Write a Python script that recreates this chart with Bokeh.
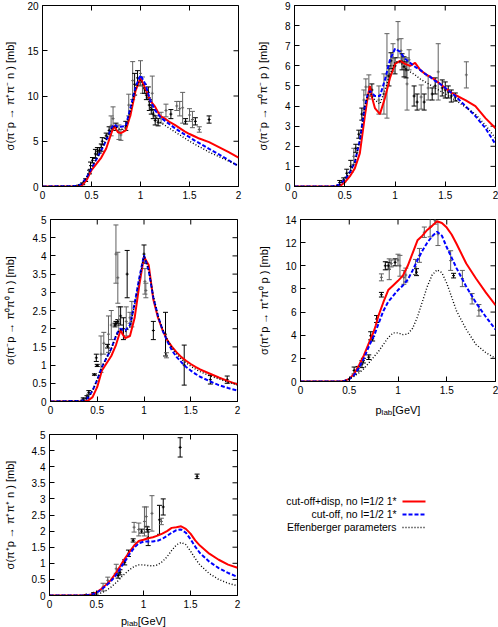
import math
from bokeh.plotting import figure
from bokeh.layouts import column, row
from bokeh.models import Range1d, FixedTicker, CustomJSTickFormatter, ColumnDataSource
from bokeh.core.properties import value
from bokeh.embed import file_html
from bokeh.resources import INLINE

FONT = "Liberation Sans"

X_TICKS = [0, 0.5, 1, 1.5, 2]
X_TICK_LABELS = ["0", "0.5", "1", "1.5", "2"]

Y1_TICKS = [0, 5, 10, 15, 20]
Y1_LABELS = ["0", "5", "10", "15", "20"]
Y2_TICKS = [0, 1, 2, 3, 4, 5, 6, 7, 8, 9]
Y2_LABELS = ["0", "1", "2", "3", "4", "5", "6", "7", "8", "9"]
Y3_TICKS = [0, 0.5, 1, 1.5, 2, 2.5, 3, 3.5, 4, 4.5, 5]
Y3_LABELS = ["0", "0.5", "1", "1.5", "2", "2.5", "3", "3.5", "4", "4.5", "5"]
Y4_TICKS = [0, 2, 4, 6, 8, 10, 12, 14]
Y4_LABELS = ["0", "2", "4", "6", "8", "10", "12", "14"]
Y5_TICKS = Y3_TICKS
Y5_LABELS = Y3_LABELS

YLABELS = [
    "σ(π⁻p → π⁺π⁻ n ) [mb]",
    "σ(π⁻p → π⁰π⁻ p ) [mb]",
    "σ(π⁻p → π⁰π⁰ n ) [mb]",
    "σ(π⁺p → π⁺π⁰ p ) [mb]",
    "σ(π⁺p → π⁺π⁺ n ) [mb]",
]
XLABEL_PARTS = ["p", "lab", "[GeV]"]
LEGEND_LABELS = ["cut-off+disp, no I=1/2 1*", "cut-off, no I=1/2 1*", "Effenberger parameters"]

# common momentum grid of the model curves (GeV)
CURVE_X = [0, .35, .4, .45, .5, .55, .6, .65, .7, .73, .75, .77, .8, .85, .9, .95, 1.0,
           1.05, 1.1, 1.15, 1.2, 1.25, 1.3, 1.35, 1.4, 1.45, 1.5, 1.55, 1.6, 1.7, 1.8, 1.9, 2.0]

# panel 1: pi- p -> pi+ pi- n
P1_RED = [0, 0, .1, .7, 1.8, 2.5, 3.2, 4.2, 5.8, 6.7, 6.3, 6.0, 5.9, 6.2, 8.0, 10.6, 12.0,
          10.8, 9.5, 8.8, 7.8, 7.5, 7.1, 6.8, 6.45, 6.1, 5.8, 5.55, 5.3, 4.9, 4.35, 3.8, 3.2]
P1_BLUE = [0, .05, .3, 1.0, 2.0, 3.0, 4.0, 5.1, 6.4, 6.85, 6.7, 6.6, 6.6, 6.7, 8.8, 11.0, 12.3,
           11.3, 9.5, 8.4, 7.7, 7.25, 6.85, 6.45, 6.1, 5.75, 5.45, 5.1, 4.8, 4.15, 3.55, 2.9, 2.25]
P1_BLACK = [0, .05, .3, 1.0, 2.1, 3.1, 4.1, 5.2, 6.3, 6.6, 6.6, 6.4, 6.3, 6.5, 8.5, 10.8, 11.8,
            10.5, 8.8, 7.8, 7.1, 6.75, 6.4, 6.05, 5.7, 5.35, 5.0, 4.7, 4.4, 3.8, 3.3, 2.8, 2.3]
P1_DX = [0.37, 0.41, 0.44, 0.48, 0.49, 0.51, 0.54, 0.56, 0.58, 0.6, 0.61, 0.65, 0.68, 0.70, 0.72,
         0.75, 0.78, 0.80, 0.85, 0.88, 0.92, 0.94, 0.97, 1.0, 1.02, 1.04, 1.06, 1.08, 1.09, 1.11,
         1.12, 1.13, 1.15, 1.18, 1.21, 1.26, 1.31, 1.37, 1.40, 1.43, 1.46, 1.5, 1.53, 1.56, 1.6, 1.7]
P1_DY = [0.1, 0.3, 0.7, 1.6, 2.3, 2.9, 3.6, 3.9, 4.0, 4.3, 5.0, 5.6, 6.2, 6.7, 7.5,
         6.6, 6.0, 5.7, 6.7, 9.0, 11.7, 11.3, 12.0, 12.5, 11.2, 10.8, 10.1, 10.4, 9.0, 8.5,
         10.3, 8.0, 7.3, 7.1, 7.6, 8.4, 8.0, 8.9, 8.6, 8.7, 7.2, 7.9, 7.4, 7.2, 6.3, 7.4]
P1_DE = [0.05, 0.1, 0.15, 0.2, 0.4, 0.3, 0.5, 0.4, 0.3, 0.4, 0.4, 0.3, 0.4, 1.1, 1.3,
         0.4, 0.8, 0.6, 0.5, 1.2, 2.1, 1.2, 0.8, 1.4, 0.9, 0.5, 0.5, 0.6, 0.6, 0.5,
         1.9, 0.5, 0.5, 0.4, 0.6, 0.7, 0.5, 0.5, 0.8, 1.7, 0.3, 0.7, 0.9, 0.4, 0.3, 0.4]
P1_DG = [1, 1, 1, 1, 1, 1, 1, 1, 1, 1, 1, 1, 1, 0, 0,
         1, 0, 0, 1, 0, 0, 1, 1, 0, 0, 1, 1, 1, 1, 1,
         0, 1, 1, 1, 0, 0, 1, 0, 0, 0, 1, 0, 0, 1, 0, 1]

# panel 2: pi- p -> pi0 pi- p
P2_RED = [0, 0, 0, .02, .2, .5, .9, 1.65, 3.5, 4.5, 5.0, 4.45, 3.9, 3.6, 4.4, 5.4, 6.1,
          6.25, 6.1, 6.0, 6.15, 5.8, 5.6, 5.45, 5.3, 5.1, 4.9, 4.7, 4.55, 4.3, 4.0, 3.4, 2.9]
P2_BLUE = [0, 0, .02, .1, .35, .7, 1.2, 2.3, 4.0, 4.6, 4.75, 4.65, 4.5, 4.5, 5.3, 6.3, 6.85,
           6.7, 6.35, 6.15, 5.95, 5.8, 5.6, 5.45, 5.25, 5.1, 4.9, 4.7, 4.5, 4.0, 3.5, 2.9, 2.1]
P2_BLACK = [0, 0, .02, .1, .35, .7, 1.2, 2.3, 4.0, 4.55, 4.7, 4.5, 4.3, 4.1, 4.8, 5.6, 6.2,
            6.2, 5.9, 5.7, 5.55, 5.35, 5.2, 5.05, 4.9, 4.75, 4.6, 4.45, 4.3, 3.95, 3.6, 3.05, 2.4]
P2_DX = [0.45, 0.49, 0.52, 0.56, 0.59, 0.61, 0.64, 0.67, 0.69, 0.71, 0.74, 0.77, 0.84, 0.89,
         0.92, 0.94, 0.96, 0.98, 1.0, 1.03, 1.06, 1.07, 1.09, 1.11, 1.12, 1.14, 1.19, 1.22,
         1.26, 1.29, 1.33, 1.37, 1.4, 1.43, 1.47, 1.5, 1.53, 1.56, 1.6, 1.71]
P2_DY = [0.2, 0.33, 0.66, 1.0, 1.5, 1.9, 2.6, 3.6, 4.3, 4.95, 4.95, 4.8, 4.3, 4.6,
         5.5, 5.5, 6.25, 6.4, 6.0, 7.3, 6.75, 6.2, 5.95, 5.8, 5.1, 6.3, 4.5, 4.2,
         4.45, 4.2, 4.9, 4.6, 5.0, 5.7, 4.9, 4.8, 4.7, 4.5, 4.45, 5.55]
P2_DE = [0.1, 0.1, 0.2, 0.3, 0.4, 0.2, 0.2, 0.3, 0.5, 0.4, 0.6, 0.3, 0.7, 1.0,
         2.1, 0.5, 0.4, 0.7, 0.4, 0.9, 0.6, 0.4, 0.5, 0.4, 1.3, 0.5, 0.5, 0.4,
         0.6, 0.4, 0.6, 0.3, 0.4, 1.4, 0.4, 0.4, 0.3, 0.3, 0.2, 0.65]
P2_DG = [1, 1, 1, 1, 0, 1, 1, 1, 0, 0, 0, 1, 0, 0,
         0, 1, 1, 0, 1, 0, 0, 1, 1, 1, 0, 0, 1, 1,
         0, 1, 0, 1, 1, 0, 1, 1, 1, 1, 1, 0]

# panel 3: pi- p -> pi0 pi0 n
P3_RED = [0, 0, .02, .12, .4, .85, 1.05, 1.25, 1.55, 1.8, 1.97, 1.85, 1.74, 1.8, 2.3, 3.2, 3.98,
          3.75, 2.8, 2.3, 1.95, 1.68, 1.5, 1.35, 1.22, 1.12, 1.03, .95, .88, .77, .66, .56, .47]
P3_BLUE = [0, .02, .1, .3, .6, .95, 1.2, 1.45, 1.8, 1.95, 2.0, 1.97, 1.95, 2.1, 2.7, 3.4, 4.02,
           3.6, 2.85, 2.35, 1.95, 1.65, 1.4, 1.22, 1.08, .95, .85, .76, .68, .56, .45, .37, .3]
P3_BLACK = [0, .02, .1, .3, .6, .95, 1.2, 1.45, 1.8, 1.93, 1.97, 1.93, 1.9, 2.05, 2.65, 3.35, 4.0,
            3.65, 2.9, 2.35, 1.98, 1.7, 1.47, 1.3, 1.16, 1.06, .97, .89, .82, .71, .62, .53, .45]
P3_DX = [0.35, 0.39, 0.41, 0.47, 0.5, 0.49, 0.54, 0.57, 0.61, 0.62, 0.65, 0.70, 0.72, 0.69,
         0.70, 0.72, 0.73, 0.75, 0.78, 0.81, 0.82, 0.85, 0.87, 1.0, 1.01, 1.02, 1.1, 1.23,
         1.24, 1.43, 1.71, 1.89]
P3_DY = [0.07, 0.12, 0.25, 0.74, 0.99, 1.2, 1.3, 1.6, 1.52, 1.85, 2.1, 4.05, 3.4, 2.1,
         2.15, 2.2, 2.25, 2.35, 2.0, 2.2, 3.5, 2.3, 2.4, 4.05, 3.3, 3.05, 1.95, 1.85,
         1.27, 1.0, 0.6, 0.6]
P3_DE = [0.03, 0.04, 0.05, 0.02, 0.03, 0.1, 0.5, 0.3, 0.05, 0.5, 0.4, 0.8, 0.7, 0.05,
         0.05, 0.05, 0.35, 0.25, 0.3, 0.4, 0.65, 0.15, 0.35, 0.25, 0.35, 0.2, 0.25, 0.6,
         0.07, 0.55, 0.12, 0.1]
P3_DG = [1, 1, 1, 1, 1, 1, 0, 0, 1, 0, 0, 0, 0, 1,
         1, 1, 0, 1, 1, 0, 1, 0, 0, 1, 0, 0, 1, 1,
         0, 1, 1, 1]

# panel 4: pi+ p -> pi+ pi0 p
P4_RED = [0, 0, 0, .05, .23, .66, 1.4, 2.25, 3.3, 3.9, 4.3, 4.8, 5.7, 6.85, 7.9, 8.3, 8.7,
          9.15, 10.0, 11.1, 12.2, 12.6, 13.1, 13.45, 13.85, 13.7, 13.3, 12.7, 11.9, 10.2, 8.9, 7.7, 6.6]
P4_BLUE = [0, 0, 0, .05, .2, .55, 1.2, 2.0, 3.0, 3.55, 3.9, 4.3, 5.0, 6.1, 6.9, 7.4, 7.9,
           8.3, 8.8, 9.6, 10.5, 11.3, 12.0, 12.55, 12.95, 12.6, 11.6, 10.7, 9.8, 8.2, 6.8, 5.6, 4.5]
P4_BLACK = [0, 0, 0, .05, .2, .45, .75, 1.1, 1.6, 1.9, 2.1, 2.3, 2.6, 3.2, 3.8, 4.2, 4.2,
            4.05, 4.1, 4.6, 5.6, 6.9, 8.2, 9.2, 9.65, 9.4, 8.5, 7.3, 6.1, 4.5, 3.2, 2.5, 2.0]
P4_DX = [0.55, 0.59, 0.63, 0.645, 0.7, 0.72, 0.74, 0.78, 0.83, 0.83, 0.87, 0.9, 0.91, 0.93,
         0.97, 1.0, 1.02, 1.06, 1.08, 1.18, 1.19, 1.22, 1.27, 1.33, 1.38, 1.41, 1.54, 1.57,
         1.66, 1.76, 1.83]
P4_DY = [0.95, 1.1, 1.5, 1.8, 2.1, 3.95, 3.7, 5.4, 7.5, 9.0, 10.0, 10.0, 9.7, 10.2,
         10.3, 10.5, 10.0, 9.0, 9.2, 9.9, 9.45, 10.9, 12.9, 13.35, 13.9, 12.75, 10.45, 9.15,
         8.9, 7.15, 6.15]
P4_DE = [0.3, 0.2, 0.3, 0.2, 0.2, 0.35, 0.2, 0.3, 0.2, 0.3, 0.35, 0.3, 0.9, 0.3,
         0.3, 0.5, 0.9, 0.6, 0.6, 0.65, 0.3, 0.6, 0.45, 0.85, 0.3, 1.0, 0.85, 0.2,
         0.7, 0.45, 0.5]
P4_DG = [1, 1, 1, 1, 1, 1, 1, 1, 1, 0, 1, 1, 0, 0,
         1, 0, 0, 0, 0, 0, 1, 0, 0, 0, 0, 0, 0, 1,
         0, 0, 0]

# panel 5: pi+ p -> pi+ pi+ n
P5_RED = [0, 0, .01, .03, .1, .2, .33, .47, .67, .81, .9, 1.0, 1.14, 1.35, 1.55, 1.69, 1.73,
          1.78, 1.81, 1.86, 1.92, 2.0, 2.1, 2.12, 2.15, 2.07, 1.92, 1.71, 1.55, 1.3, 1.11, .96, .86]
P5_BLUE = [0, 0, .01, .03, .08, .18, .3, .43, .6, .73, .82, .92, 1.05, 1.28, 1.48, 1.62, 1.67,
           1.68, 1.68, 1.7, 1.76, 1.85, 1.95, 2.03, 2.05, 1.95, 1.75, 1.52, 1.32, 1.05, .85, .7, .58]
P5_BLACK = [0, 0, 0, .01, .03, .08, .15, .25, .38, .46, .52, .59, .67, .8, .9, .95, .95,
            .93, .92, .95, 1.05, 1.2, 1.4, 1.57, 1.65, 1.58, 1.38, 1.15, .95, .68, .5, .38, .3]
P5_DX = [0.39, 0.47, 0.57, 0.62, 0.71, 0.73, 0.75, 0.8, 0.84, 0.89, 0.9, 0.95, 0.98, 1.01,
         1.03, 1.04, 1.05, 1.09, 1.17, 1.19, 1.21, 1.39, 1.57]
P5_DY = [0.02, 0.07, 0.26, 0.47, 0.83, 0.62, 0.72, 1.03, 1.31, 1.71, 2.12, 2.05, 2.0, 2.3,
         2.45, 2.05, 1.8, 2.55, 2.35, 2.3, 2.75, 4.6, 3.7]
P5_DE = [0.01, 0.02, 0.12, 0.1, 0.14, 0.08, 0.08, 0.08, 0.1, 0.05, 0.15, 0.2, 0.06, 0.45,
         0.3, 0.08, 0.25, 0.55, 0.45, 0.1, 0.25, 0.3, 0.07]
P5_DG = [1, 1, 0, 0, 0, 1, 1, 1, 1, 1, 0, 0, 1, 0,
         0, 1, 1, 0, 1, 0, 1, 1, 1]

RED = "#ff0000"
BLUE = "#0000ff"
BLACK = "#000000"
GRAY = "#606060"

FMT_CODE = ("const i = tv.findIndex(t => Math.abs(t - tick) < 1e-6);"
            "return i < 0 ? '' : tl[i];")


def make_panel(w, h, borders, lab_standoff, ymax, yticks, ylabels, ylabel, red, blue, black,
               dx, dy, de, dg):
    left, right, top, bottom = borders
    p = figure(width=w, height=h, x_range=Range1d(0, 2), y_range=Range1d(0, ymax),
               output_backend="svg", toolbar_location=None,
               min_border_left=left, min_border_right=right,
               min_border_top=top, min_border_bottom=bottom)
    p.grid.visible = False
    p.outline_line_color = "black"
    p.outline_line_width = 1
    p.background_fill_color = "white"
    p.border_fill_color = "white"

    xa = p.xaxis[0]
    xa.ticker = FixedTicker(ticks=X_TICKS)
    xa.formatter = CustomJSTickFormatter(args=dict(tv=X_TICKS, tl=X_TICK_LABELS), code=FMT_CODE)
    ya = p.yaxis[0]
    ya.ticker = FixedTicker(ticks=yticks)
    ya.formatter = CustomJSTickFormatter(args=dict(tv=yticks, tl=ylabels), code=FMT_CODE)
    ya.axis_label = ylabel
    ya.axis_label_standoff = int(lab_standoff)
    for ax in (xa, ya):
        ax.major_tick_in = 5
        ax.major_tick_out = 0
        ax.minor_tick_line_color = None
        ax.axis_line_color = "black"
        ax.major_tick_line_color = "black"
        ax.major_label_text_font = FONT
        ax.major_label_text_font_size = "10px"
        ax.major_label_text_color = "black"
        ax.major_label_standoff = 4
        ax.axis_label_text_font = FONT
        ax.axis_label_text_font_size = "11px"
        ax.axis_label_text_font_style = "normal"
        ax.axis_label_text_color = "black"

    # mirrored inward ticks on the right and top edges (outer half is clipped by the frame)
    p.scatter(x=[2] * len(yticks), y=yticks, marker="dash", size=10, line_color="black", line_width=1)
    p.scatter(x=X_TICKS, y=[ymax] * len(X_TICKS), marker="dash", angle=math.pi / 2, size=10,
              line_color="black", line_width=1)

    # experimental data with error bars
    src = ColumnDataSource(dict(
        x=dx, y=dy,
        lo=[a - b for a, b in zip(dy, de)],
        hi=[a + b for a, b in zip(dy, de)],
        c=[BLACK if g else GRAY for g in dg],
    ))
    p.segment(x0="x", y0="lo", x1="x", y1="hi", line_color="c", line_width=1, source=src)
    p.scatter(x="x", y="lo", marker="dash", size=5, line_color="c", line_width=1, source=src)
    p.scatter(x="x", y="hi", marker="dash", size=5, line_color="c", line_width=1, source=src)
    p.scatter(x="x", y="y", marker="cross", size=3, line_color="c", line_width=1, source=src)

    # model curves
    p.line(CURVE_X, red, line_color=RED, line_width=2)
    p.line(CURVE_X, blue, line_color=BLUE, line_width=2, line_dash="4 2")
    p.line(CURVE_X, black, line_color=BLACK, line_width=1.4, line_dash="1 2")
    return p


def make_xlabel(w, h, left, right, baseline_from_top):
    # strip under a panel holding the "p_lab [GeV]" axis title, centred on the panel frame
    f = figure(width=w, height=h, x_range=Range1d(0, 2), y_range=Range1d(0, h),
               output_backend="svg", toolbar_location=None,
               min_border_left=left, min_border_right=right, min_border_top=0, min_border_bottom=0,
               x_axis_location=None, y_axis_location=None)
    f.grid.visible = False
    f.outline_line_color = None
    base = h - baseline_from_top
    f.text(x=[1.0, 1.0, 1.0], y=[base, base - 2.2, base], text=XLABEL_PARTS,
           x_offset=[-22.5, -16.4, -5.7], text_font=value(FONT),
           text_font_size=["11px", "8px", "11px"], text_align="left",
           text_baseline="alphabetic", text_color="black")
    return f


# whole layout 498 x 627: left column 248, right column 250; rows 205 / 212 / 210
p1 = make_panel(248, 205, (42, 10, 5, 19), 8, 20, Y1_TICKS, Y1_LABELS, YLABELS[0],
                P1_RED, P1_BLUE, P1_BLACK, P1_DX, P1_DY, P1_DE, P1_DG)
p2 = make_panel(250, 205, (46, 3, 5, 19), 13, 9, Y2_TICKS, Y2_LABELS, YLABELS[1],
                P2_RED, P2_BLUE, P2_BLACK, P2_DX, P2_DY, P2_DE, P2_DG)
p3 = make_panel(248, 212, (48, 11, 14, 16), 14, 5, Y3_TICKS, Y3_LABELS, YLABELS[2],
                P3_RED, P3_BLUE, P3_BLACK, P3_DX, P3_DY, P3_DE, P3_DG)
p4 = make_panel(250, 193, (52, 3, 14, 17), 12, 14, Y4_TICKS, Y4_LABELS, YLABELS[3],
                P4_RED, P4_BLUE, P4_BLACK, P4_DX, P4_DY, P4_DE, P4_DG)
x4 = make_xlabel(250, 19, 52, 3, 11.5)
p5 = make_panel(248, 193, (49, 11, 17, 15), 13, 5, Y5_TICKS, Y5_LABELS, YLABELS[4],
                P5_RED, P5_BLUE, P5_BLACK, P5_DX, P5_DY, P5_DE, P5_DG)
x5 = make_xlabel(248, 17, 49, 11, 10.5)

# legend panel
pl = figure(width=250, height=210, x_range=Range1d(0, 250), y_range=Range1d(0, 210),
            output_backend="svg", toolbar_location=None, min_border=0,
            x_axis_location=None, y_axis_location=None)
pl.grid.visible = False
pl.outline_line_color = None
LEG_Y = [126, 113, 100]
pl.text(x=[148] * 3, y=LEG_Y, text=LEGEND_LABELS, text_align="right", text_baseline="middle",
        text_font=value(FONT), text_font_size="10.4px", text_color="black")
pl.line([154, 177], [LEG_Y[0]] * 2, line_color=RED, line_width=2)
pl.line([154, 177], [LEG_Y[1]] * 2, line_color=BLUE, line_width=2, line_dash="4 2")
pl.line([154, 177], [LEG_Y[2]] * 2, line_color=BLACK, line_width=1.4, line_dash="1 2")

layout = column(row(p1, p2), row(p3, column(p4, x4)), row(column(p5, x5), pl))
open("out.html", "w").write(file_html(layout, INLINE))
